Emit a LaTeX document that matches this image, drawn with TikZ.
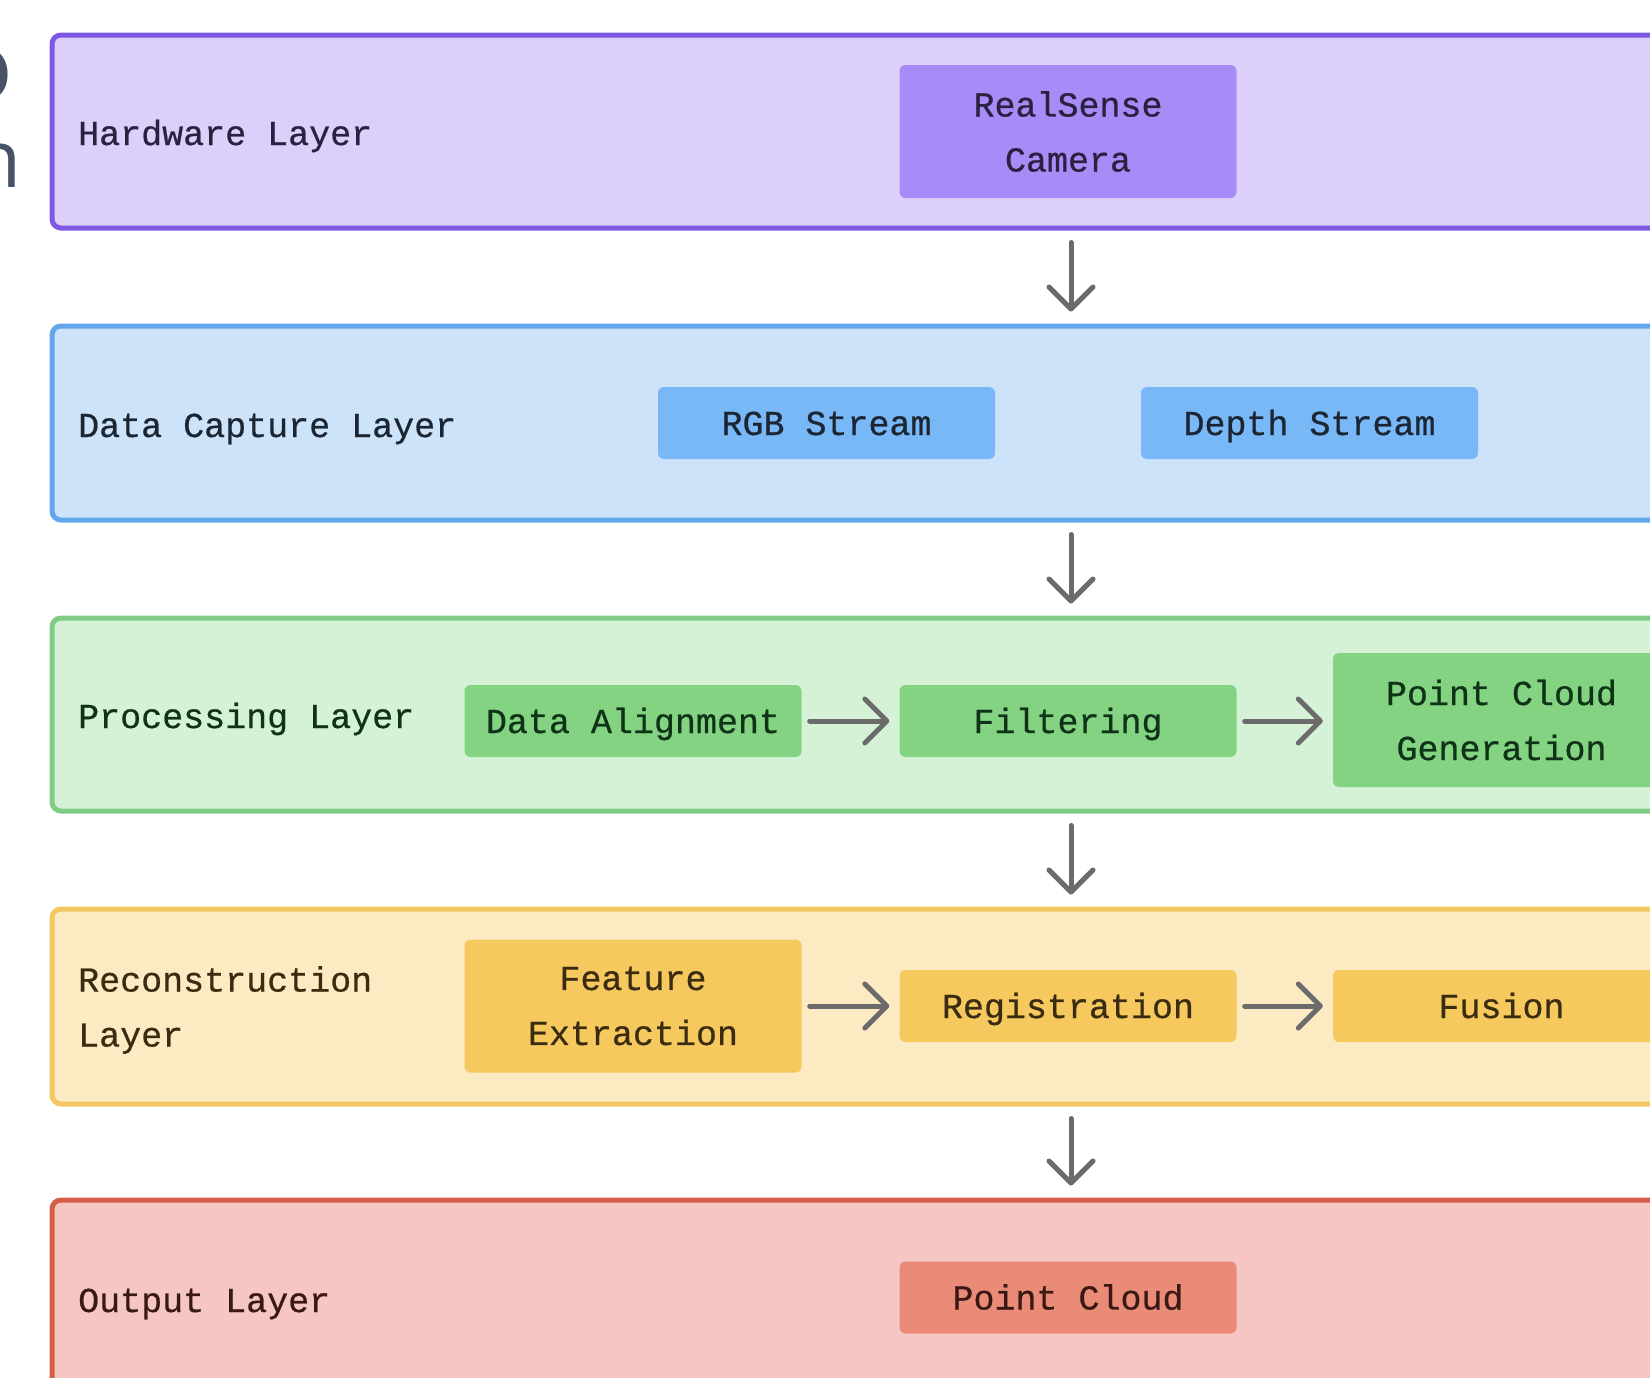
\documentclass[tikz,border=0pt]{standalone}
\usepackage{fontspec}
\setmonofont[FakeBold=0.6]{Liberation Mono}
\newfontfamily\titlefont{Open Sans}
\usetikzlibrary{arrows.meta}
\definecolor{hwfill}{HTML}{DCCFFA}
\definecolor{hwline}{HTML}{7E57E2}
\definecolor{hwbox}{HTML}{A78BF6}
\definecolor{hwtext}{HTML}{2A2140}
\definecolor{dcfill}{HTML}{CCE3FA}
\definecolor{dcline}{HTML}{62A6EC}
\definecolor{dcbox}{HTML}{78B8F6}
\definecolor{dctext}{HTML}{1C2633}
\definecolor{prfill}{HTML}{D5F2D7}
\definecolor{prline}{HTML}{80CC84}
\definecolor{prbox}{HTML}{84D383}
\definecolor{prtext}{HTML}{0F3316}
\definecolor{rcfill}{HTML}{FBEAC2}
\definecolor{rcline}{HTML}{F3C860}
\definecolor{rcbox}{HTML}{F6C95F}
\definecolor{rctext}{HTML}{3A2C10}
\definecolor{opfill}{HTML}{F5C6C2}
\definecolor{opline}{HTML}{D55E48}
\definecolor{opbox}{HTML}{EA8B77}
\definecolor{optext}{HTML}{3A1814}
\definecolor{arrowgray}{HTML}{6B6B6B}
\definecolor{titlegray}{HTML}{465366}
\begin{document}
\begin{tikzpicture}[x=1pt,y=-1pt,
  layer/.style={draw, line width=5pt, rounded corners=9pt, minimum width=1648pt, inner sep=0pt},
  lbl/.style={anchor=base west, align=left, inner sep=0pt, font=\ttfamily\fontsize{35}{55}\selectfont},
  box/.style={rounded corners=6pt, minimum width=337pt, minimum height=72pt, align=center, inner sep=0pt, font=\ttfamily\fontsize{35}{55}\selectfont},
  one/.style={text height=24pt, text depth=0pt},
  tall/.style={minimum height=133pt},
  arr/.style={draw=arrowgray, line width=5pt, line cap=round, -{Straight Barb[length=22pt,width=44pt,round]}},
  vshort/.style={shorten <=12pt, shorten >=12pt},
  hshort/.style={shorten <=8pt, shorten >=10pt},
  frag/.style={anchor=base east, inner sep=0pt, text=titlegray}
]
\useasboundingbox (0,0) rectangle (1650,1377);
\clip (0,0) rectangle (1650,1377);
\fill[white] (0,0) rectangle (1650,1377);

% title fragments cut off at the left edge
\node[frag, font=\titlefont\bfseries\fontsize{95}{95}\selectfont] (t1) at (13,100) {o};
\node[frag, font=\titlefont\fontsize{80}{80}\selectfont] (t2) at (22,187) {n};

% layers
\node[layer, draw=hwline, fill=hwfill, minimum height=193pt] (hw) at (876,131.5) {};
\node[layer, draw=dcline, fill=dcfill, minimum height=194pt] (dc) at (876,423) {};
\node[layer, draw=prline, fill=prfill, minimum height=193pt] (pr) at (876,714.5) {};
\node[layer, draw=rcline, fill=rcfill, minimum height=195pt] (rc) at (876,1006.5) {};
\node[layer, draw=opline, fill=opfill, minimum height=197pt] (op) at (876,1298.5) {};

% layer labels
\node[lbl, text=hwtext] (hwl) at (78,145) {Hardware Layer};
\node[lbl, text=dctext] (dcl) at (78,437) {Data Capture Layer};
\node[lbl, text=prtext] (prl) at (78,728) {Processing Layer};
\node[lbl, anchor=west, text=rctext] (rcl) at (78,1010) {Reconstruction\\Layer};
\node[lbl, text=optext] (opl) at (78,1312) {Output Layer};

% inner boxes
\node[box, tall, fill=hwbox, text=hwtext] (cam) at (1068,131.5) {RealSense\\Camera};
\node[box, one, fill=dcbox, text=dctext] (rgb) at (826.5,423) {RGB Stream};
\node[box, one, fill=dcbox, text=dctext] (dep) at (1309.5,423) {Depth Stream};
\node[box, one, fill=prbox, text=prtext] (ali) at (633,721) {Data Alignment};
\node[box, one, fill=prbox, text=prtext] (fil) at (1068,721) {Filtering};
\node[box, tall, minimum height=134pt, fill=prbox, text=prtext] (pcg) at (1501.5,720) {Point Cloud\\Generation};
\node[box, tall, fill=rcbox, text=rctext] (fea) at (633,1006) {Feature\\Extraction};
\node[box, one, fill=rcbox, text=rctext] (reg) at (1068,1006) {Registration};
\node[box, one, fill=rcbox, text=rctext] (fus) at (1501.5,1006) {Fusion};
\node[box, one, fill=opbox, text=optext] (pc) at (1068,1297.5) {Point Cloud};

% vertical connectors between layers
\draw[arr, vshort] ([xshift=3pt]cam.center |- hw.south) -- ([xshift=3pt]cam.center |- dc.north);
\draw[arr, vshort] ([xshift=3pt]cam.center |- dc.south) -- ([xshift=3pt]cam.center |- pr.north);
\draw[arr, vshort] ([xshift=3pt]cam.center |- pr.south) -- ([xshift=3pt]cam.center |- rc.north);
\draw[arr, vshort] ([xshift=3pt]cam.center |- rc.south) -- ([xshift=3pt]cam.center |- op.north);

% horizontal connectors inside layers
\draw[arr, hshort] (ali.east) -- (fil.west);
\draw[arr, hshort] (fil.east) -- (fil.east -| pcg.west);
\draw[arr, hshort] (fea.east) -- (reg.west);
\draw[arr, hshort] (reg.east) -- (fus.west);
\end{tikzpicture}
\end{document}
